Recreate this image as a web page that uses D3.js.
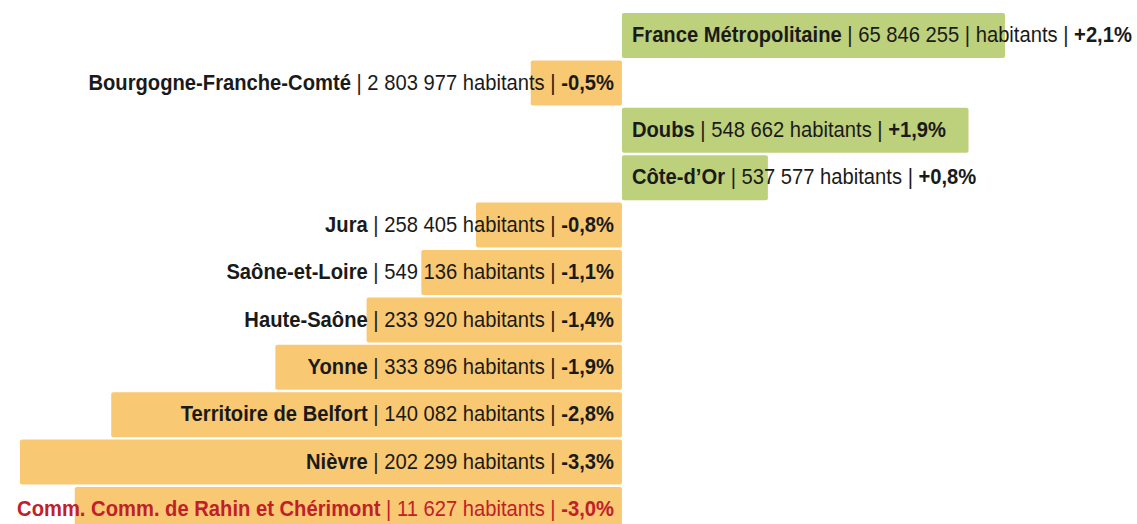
<!DOCTYPE html>
<html>
<head>
<meta charset="utf-8">
<script src="https://cdn.jsdelivr.net/npm/d3@7"></script>
<style>
  html, body { margin: 0; padding: 0; background: #fff; }
  #chart svg { display: block; }
  .label { font-family: "Liberation Sans", Arial, sans-serif; font-size: 22px; fill: #1a1a1a; }
  .label .b { font-weight: bold; }
  .label.highlight { fill: #c0202a; }
</style>
</head>
<body>
<div id="chart"></div>
<script>
// data
var names = ["France Métropolitaine", "Bourgogne-Franche-Comté", "Doubs", "Côte-d’Or", "Jura",
  "Saône-et-Loire", "Haute-Saône", "Yonne", "Territoire de Belfort", "Nièvre",
  "Comm. Comm. de Rahin et Chérimont"];
var population = ["65 846 255", "2 803 977", "548 662", "537 577", "258 405",
  "549 136", "233 920", "333 896", "140 082", "202 299", "11 627"];
var change = [2.1, -0.5, 1.9, 0.8, -0.8, -1.1, -1.4, -1.9, -2.8, -3.3, -3.0];
var changeLabels = ["+2,1%", "-0,5%", "+1,9%", "+0,8%", "-0,8%", "-1,1%", "-1,4%", "-1,9%", "-2,8%", "-3,3%", "-3,0%"];

var rows = names.map((n, i) => ({ name: n, pop: population[i], val: change[i], pct: changeLabels[i], i: i }));

var width = 1137, height = 524;
var GREEN = "#bdd07b", ORANGE = "#f9c872";
var narrow = 0.918; // fake a narrow face by squeezing the text horizontally

var svg = d3.select("#chart").append("svg")
  .attr("width", width)
  .attr("height", height);

var xScale = d3.scaleLinear()
  .domain([-3.3, 2.1])
  .range([20, 1005]);

var yScale = d3.scaleBand()
  .domain(rows.map(d => d.i))
  .range([13 - 1.2, 13 - 1.2 + 47.4 * rows.length])
  .paddingInner(0.05)
  .paddingOuter(0.025);

svg.append("g")
  .attr("class", "bars")
  .selectAll("rect")
  .data(rows)
  .enter()
  .append("rect")
  .attr("x", d => xScale(Math.min(0, d.val)))
  .attr("y", d => yScale(d.i))
  .attr("width", d => Math.abs(xScale(d.val) - xScale(0)))
  .attr("height", yScale.bandwidth())
  .attr("rx", 2)
  .attr("fill", d => d.val >= 0 ? GREEN : ORANGE);

var labels = svg.append("g")
  .selectAll("g")
  .data(rows)
  .enter()
  .append("g")
  .attr("transform", d => {
    var x = d.val >= 0 ? xScale(0) + 10 : xScale(0) - 8;
    var y = yScale(d.i) + yScale.bandwidth() / 2;
    return `translate(${x},${y}) scale(${narrow},1)`;
  })
  .append("text")
  .attr("class", d => "label" + (d.i === rows.length - 1 ? " highlight" : ""))
  .attr("dy", "0.3em")
  .attr("text-anchor", d => d.val >= 0 ? "start" : "end");

labels.append("tspan").attr("class", "b").text(d => d.name);
labels.append("tspan").text(d => d.i === 0
  ? " | " + d.pop + " | habitants | "
  : " | " + d.pop + " habitants | ");
labels.append("tspan").attr("class", "b").text(d => d.pct);
</script>
</body>
</html>
